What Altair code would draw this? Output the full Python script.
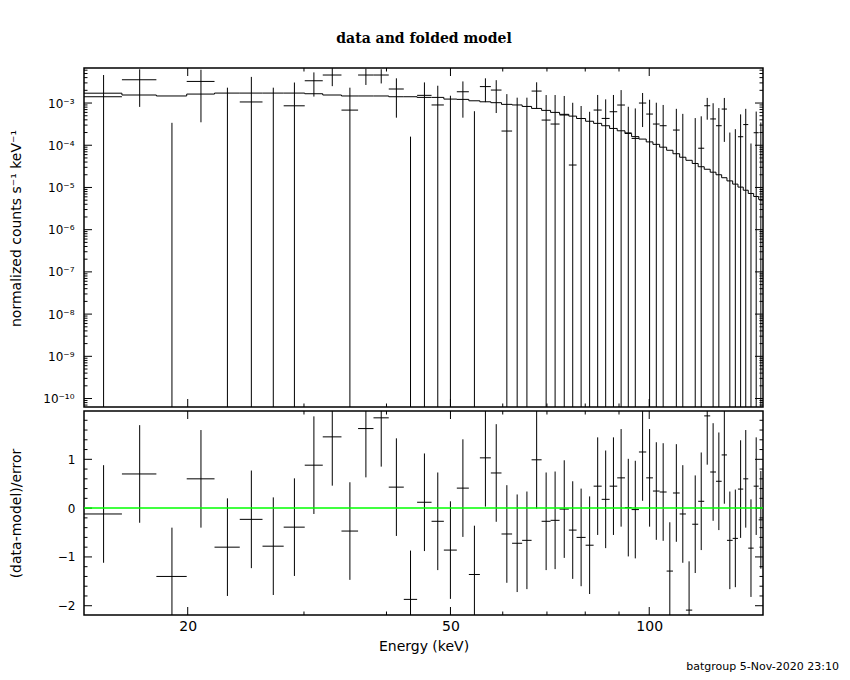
import altair as alt
import pandas as pd

# ---------------- data ----------------
# bin edges (keV)
e_edges = [13.93, 15.90, 17.93, 19.93, 21.96, 23.98, 25.96, 27.95, 30.08, 32.03,
           34.19, 36.23, 38.23, 40.32, 42.49, 44.51, 46.81, 48.86, 51.12, 53.31,
           55.40, 57.56, 59.74, 61.99, 64.20, 66.35, 68.71, 70.89, 73.15, 75.55,
           77.62, 80.10, 82.37, 84.72, 87.10, 89.44, 91.88, 94.04, 96.47, 98.96,
           101.30, 103.70, 106.26, 108.63, 111.20, 113.65, 116.18, 118.62, 121.14, 123.70,
           126.22, 128.74, 131.14, 133.78, 136.27, 138.80, 141.25, 143.94, 146.48, 148.70]
# normalized counts (units of 1e-3 counts/s/keV)
rate = [1.41, 3.56, -2.50, 3.25, -0.64, 1.06, -0.37, 0.86, 3.37, 4.61,
        0.68, 4.61, 4.61, 2.15, -1.28, 1.52, 0.90, -0.31, 1.85, -0.70,
        2.45, 2.03, 0.217, -0.23, -0.16, 1.92, 0.395, 0.318, 0.52, 0.034,
        -0.20, -0.43, 0.682, 0.432, 0.622, 0.897, 0.196, 0.145, 1.00, 0.548,
        0.318, 0.29, -0.63, 0.229, -0.016, -1.00, -0.16, 0.085, 0.863, 0.42,
        0.29, 0.72, -0.35, -0.36, 0.159, 0.309, -0.44, 0.198, -0.103]
err = [3.20, 2.75, 2.84, 2.90, 2.95, 3.10, 2.68, 2.20, 1.95, 2.10,
       1.63, 1.93, 1.70, 1.70, 1.44, 1.56, 1.67, 1.80, 1.40, 1.34,
       1.40, 1.45, 1.41, 1.57, 1.50, 1.18, 1.15, 1.23, 0.95, 0.98,
       1.05, 1.05, 0.87, 0.79, 0.93, 1.13, 0.62, 0.60, 0.73, 0.65,
       0.70, 0.61, 0.55, 0.50, 0.57, 0.50, 0.60, 0.40, 0.46, 0.57,
       0.47, 0.60, 0.55, 0.60, 0.38, 0.42, 0.55, 0.43, 0.45]
model = [1.71, 1.55, 1.47, 1.63, 1.72, 1.72, 1.72, 1.72, 1.66, 1.55,
         1.47, 1.47, 1.47, 1.41, 1.41, 1.36, 1.36, 1.24, 1.22, 1.13,
         1.07, 1.02, 0.93, 0.90, 0.83, 0.745, 0.67, 0.60, 0.54, 0.49,
         0.43, 0.37, 0.33, 0.29, 0.25, 0.22, 0.19, 0.16, 0.14, 0.12,
         0.105, 0.090, 0.076, 0.063, 0.052, 0.044, 0.037, 0.031, 0.027, 0.023,
         0.020, 0.017, 0.0143, 0.0120, 0.0102, 0.0086, 0.0072, 0.0061, 0.0052]
resid = [-0.12, 0.70, -1.40, 0.60, -0.80, -0.23, -0.78, -0.39, 0.88, 1.46,
         -0.47, 1.63, 1.85, 0.43, -1.87, 0.12, -0.27, -0.86, 0.41, -1.36,
         1.03, 0.72, -0.53, -0.72, -0.66, 0.99, -0.27, -0.25, -0.02, -0.45,
         -0.60, -0.76, 0.45, 0.18, 0.45, 0.62, 0.01, -0.03, 1.15, 0.62,
         0.35, 0.33, -1.29, 0.31, -0.12, -2.09, -0.33, 0.14, 1.89, 0.74,
         0.55, 1.09, -0.66, -0.62, 0.39, 0.60, -0.82, 0.45, -0.24]
UNIT = 1e-3

x_label_vals = [20, 50, 100]
x_major = [20, 50, 100]
x_minor = [30, 40, 60, 70, 80, 90]
y_decades = [1e-10, 1e-9, 1e-8, 1e-7, 1e-6, 1e-5, 1e-4, 1e-3]
y_labels = ["10⁻¹⁰", "10⁻⁹", "10⁻⁸", "10⁻⁷", "10⁻⁶", "10⁻⁵", "10⁻⁴", "10⁻³"]
r_major = [-2, -1, 0, 1]
r_minor = [-1.8, -1.6, -1.4, -1.2, -0.8, -0.6, -0.4, -0.2,
           0.2, 0.4, 0.6, 0.8, 1.2, 1.4, 1.6, 1.8]

# ---------------- geometry ----------------
W, H1, H2 = 679, 339, 204
XMIN, XMAX = e_edges[0], e_edges[-1]
YMIN, YMAX = 6.3e-11, 6.76e-3
RMIN, RMAX = -2.19, 1.99
FONT = "DejaVu Sans"
MAJ, MIN = 8, 3.5

y_minor = [k * d / 10 for d in y_decades + [1e-2] for k in range(2, 10)
           if YMIN <= k * d / 10 <= YMAX]

rows = []
for i in range(len(rate)):
    lo, hi = e_edges[i], e_edges[i + 1]
    d, s = rate[i] * UNIT, err[i] * UNIT
    rows.append(dict(lo=lo, hi=hi, c=(lo + hi) / 2, d=d, up=d + s,
                     dn=max(d - s, YMIN), r=resid[i],
                     rlo=resid[i] - 1, rhi=resid[i] + 1))
df = pd.DataFrame(rows)
df_pos = df[df.d > 0]
df_vis = df[df.up > 0]
df_model = pd.DataFrame({"e": e_edges, "m": [v * UNIT for v in model] + [model[-1] * UNIT]})

xs = alt.Scale(type="log", domain=[XMIN, XMAX], nice=False, zero=False)
ys = alt.Scale(type="log", domain=[YMIN, YMAX], nice=False, zero=False)
rs = alt.Scale(domain=[RMIN, RMAX], nice=False, zero=False)

lab_expr = " : ".join(
    f"abs(log(datum.value)/log(10) - ({v})) < 0.1 ? '{t}'"
    for v, t in zip([-10, -9, -8, -7, -6, -5, -4, -3], y_labels)) + " : ''"

TX = -64
TFS = 14
yaxis_top = alt.Axis(values=y_decades, labelExpr=lab_expr, ticks=False, tickSize=0,
                     domain=False, grid=False, labelPadding=10, labelFont=FONT,
                     labelFontSize=12, labelColor="black",
                     title="normalized counts s⁻¹ keV⁻¹", titleFont=FONT,
                     titleFontSize=TFS, titleFontWeight="normal", titleColor="black",
                     titleX=TX, titleY=160, titleAngle=270, titleAlign="center",
                     titleBaseline="alphabetic")
raxis = alt.Axis(values=r_major, format="d", ticks=False, tickSize=0, domain=False,
                 grid=False, labelPadding=9, labelFont=FONT, labelFontSize=12,
                 labelColor="black", title="(data-model)/error", titleFont=FONT,
                 titleFontSize=TFS, titleFontWeight="normal", titleColor="black",
                 titleX=TX, titleY=H2 / 2, titleAngle=270, titleAlign="center",
                 titleBaseline="alphabetic")
xaxis_bot = alt.Axis(values=x_label_vals, format="d", ticks=False, tickSize=0,
                     domain=False, grid=False, labelPadding=4, labelFont=FONT,
                     labelFontSize=14, labelColor="black", labelFlush=False,
                     title="Energy (keV)", titleFont=FONT, titleFontSize=TFS,
                     titleFontWeight="normal", titleColor="black", titlePadding=6)

XT = alt.X("e:Q", scale=xs, axis=None)


def xticks(vals, length, H):
    d = pd.DataFrame({"v": vals})
    bot = alt.Chart(d).mark_rule(color="black", strokeWidth=1).encode(
        x=alt.X("v:Q", scale=xs, axis=None), y=alt.value(H), y2=alt.value(H - length))
    top = alt.Chart(d).mark_rule(color="black", strokeWidth=1).encode(
        x=alt.X("v:Q", scale=xs, axis=None), y=alt.value(0), y2=alt.value(length))
    return [bot, top]


def yticks(vals, length, yenc):
    d = pd.DataFrame({"v": vals})
    left = alt.Chart(d).mark_rule(color="black", strokeWidth=1).encode(
        y=yenc, x=alt.value(0), x2=alt.value(length))
    right = alt.Chart(d).mark_rule(color="black", strokeWidth=1).encode(
        y=yenc, x=alt.value(W), x2=alt.value(W - length))
    return [left, right]


# ---------------- top panel ----------------
yv_top = alt.Y("v:Q", scale=ys, axis=yaxis_top)
model_line = alt.Chart(df_model).mark_line(
    interpolate="step-after", color="black", strokeWidth=1, clip=True).encode(
    x=XT, y=alt.Y("m:Q", scale=ys, axis=yaxis_top))
hbars = alt.Chart(df_pos).mark_rule(color="black", strokeWidth=1, clip=True).encode(
    x=alt.X("lo:Q", scale=xs, axis=None), x2="hi:Q",
    y=alt.Y("d:Q", scale=ys, axis=yaxis_top))
vbars = alt.Chart(df_vis).mark_rule(color="black", strokeWidth=1, clip=True).encode(
    x=alt.X("c:Q", scale=xs, axis=None),
    y=alt.Y("dn:Q", scale=ys, axis=yaxis_top), y2="up:Q")

top_layers = [model_line, hbars, vbars]
top_layers += xticks(x_major, MAJ, H1) + xticks(x_minor, MIN, H1)
top_layers += yticks(y_decades, MAJ, yv_top) + yticks(y_minor, MIN, yv_top)
top = alt.layer(*top_layers).properties(width=W, height=H1)

# ---------------- bottom panel ----------------
XB = lambda f: alt.X(f, scale=xs, axis=xaxis_bot)
rv = alt.Y("v:Q", scale=rs, axis=raxis)
rh = alt.Chart(df).mark_rule(color="black", strokeWidth=1, clip=True).encode(
    x=XB("lo:Q"), x2="hi:Q", y=alt.Y("r:Q", scale=rs, axis=raxis))
rvb = alt.Chart(df).mark_rule(color="black", strokeWidth=1, clip=True).encode(
    x=XB("c:Q"), y=alt.Y("rlo:Q", scale=rs, axis=raxis), y2="rhi:Q")
zero = alt.Chart(pd.DataFrame({"v": [0.0]})).mark_rule(
    color="#00ff00", strokeWidth=1.5).encode(y=rv)


def xticks_b(vals, length):
    d = pd.DataFrame({"v": vals})
    bot = alt.Chart(d).mark_rule(color="black", strokeWidth=1).encode(
        x=XB("v:Q"), y=alt.value(H2), y2=alt.value(H2 - length))
    tp = alt.Chart(d).mark_rule(color="black", strokeWidth=1).encode(
        x=XB("v:Q"), y=alt.value(0), y2=alt.value(length))
    return [bot, tp]


footer = alt.Chart(pd.DataFrame({"t": ["batgroup  5-Nov-2020 23:10"]})).mark_text(
    align="right", baseline="middle", font=FONT, fontSize=11, color="black").encode(
    text="t:N", x=alt.value(W + 76), y=alt.value(H2 + 52))

bot_layers = [rh, rvb]
bot_layers += xticks_b(x_major, MAJ) + xticks_b(x_minor, MIN)
bot_layers += yticks(r_major, MAJ, rv) + yticks(r_minor, MIN, rv)
bot_layers += [zero, footer]
bottom = alt.layer(*bot_layers).properties(width=W, height=H2)

chart = alt.vconcat(top, bottom, spacing=0).properties(
    title=alt.TitleParams("data and folded model", font="DejaVu Serif", fontSize=14,
                          fontWeight="bold", color="black", anchor="middle", offset=21),
    padding={"left": 0, "top": 23, "right": 0, "bottom": 0},
).configure(background="white").configure_view(stroke="black", strokeWidth=1.5)

chart.save("out.html", embed_options={"renderer": "svg", "actions": False})
